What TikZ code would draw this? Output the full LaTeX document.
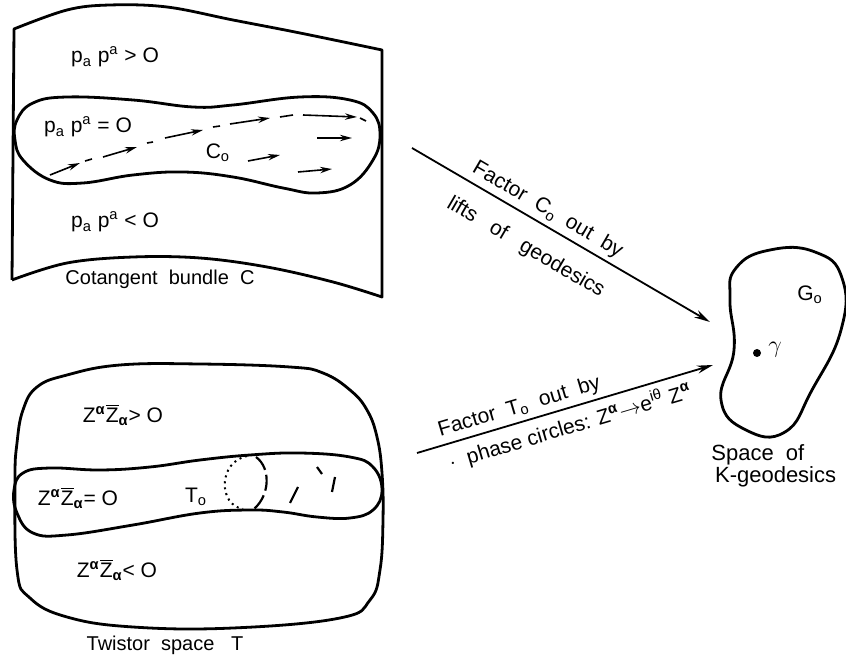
\documentclass[tikz,border=0pt]{standalone}
\usepackage{fontspec}
\setmainfont{Liberation Sans}
\usetikzlibrary{arrows.meta}
\newcommand{\Zpair}{Z\textsuperscript{\textbf{α}}\ensuremath{\overline{\mbox{Z}}}\textsubscript{\textbf{α}}}
\newcommand{\Zsup}{Z\textsuperscript{\textbf{α}}}
\tikzset{
  % Outline styles
  outline/.style={line width=1.4pt, line join=round},
  flowline/.style={line width=0.8pt},
  flowarrow/.style={line width=0.8pt, -{Stealth[length=6pt,width=3.2pt]}},
  maparrow/.style={line width=0.9pt, -{Stealth[length=8pt,width=4pt]}},
  % Label styles
  region/.style={font=\fontsize{10.5}{12}\selectfont, inner sep=1pt},
  caption/.style={font=\fontsize{10}{12}\selectfont, inner sep=1pt},
  maplabel/.style={font=\fontsize{10.5}{12}\selectfont, sloped, inner sep=1pt}
}
\begin{document}
\begin{tikzpicture}[x=0.5pt, y=-0.5pt]
  \useasboundingbox (0,0) rectangle (846,657);

  % Cotangent bundle sheet
  \draw[outline] (12,280) -- (14,29)
    -- plot[smooth, tension=0.6] coordinates {(14,29) (67,10) (110,5) (167,7) (233,20) (300,33) (382,50)}
    -- (382,297)
    -- plot[smooth, tension=0.6] coordinates {(382,297) (333,282) (267,267) (200,258) (133,257) (67,263) (12,280)};
  \draw[outline] plot[smooth cycle, tension=0.7] coordinates {(15,140) (17,120) (33,103) (67,97) (133,100) (193,107) (233,105) (300,97) (350,100) (373,113) (380,135) (373,160) (350,185) (317,193) (283,188) (233,177) (183,172) (133,175) (83,183) (50,180) (23,160)};

  % Lifts of geodesics
  \draw[flowarrow] (50,175) -- (80,163);
  \draw[flowline] (85,161) -- (92,159);
  \draw[flowarrow] (103,157) -- (137,147);
  \draw[flowline] (147,143) -- (153,142);
  \draw[flowarrow] (165,138) -- (203,130);
  \draw[flowline] (213,127) -- (220,126);
  \draw[flowarrow] (230,124) -- (270,118);
  \draw[flowline] (280,117) -- (293,115);
  \draw[flowarrow] (303,115) -- (357,117);
  \draw[flowline] (360,118) -- (366,121);
  \draw[flowarrow] (317,138) -- (352,138);
  \draw[flowarrow] (248,161) -- (280,155);
  \draw[flowarrow] (298,172) -- (332,169);

  \node[region] (cpos) at (115,57) {p\textsubscript{a} p\textsuperscript{a} > O};
  \node[region] (cnull) at (88,127) {p\textsubscript{a} p\textsuperscript{a} = O};
  \node[region] (cneg) at (115,222) {p\textsubscript{a} p\textsuperscript{a} < O};
  \node[region] (czero) at (218,153) {C\textsubscript{o}};
  \node[caption] (ccap) at (160,279) {Cotangent\ \ bundle\ \ C};

  % Twistor space
  \draw[outline] plot[smooth cycle, tension=0.7] coordinates {(15,480) (17,443) (23,410) (37,387) (67,375) (120,365) (200,364) (290,367) (323,373) (350,390) (367,410) (377,437) (382,473) (383,520) (380,570) (370,600) (340,618) (233,628) (133,627) (67,617) (30,598) (17,570)};
  \draw[outline] plot[smooth cycle, tension=0.7] coordinates {(14,490) (23,473) (50,468) (100,470) (150,467) (200,460) (250,455) (300,453) (350,457) (373,467) (382,490) (373,510) (350,518) (317,517) (283,512) (250,510) (200,513) (133,525) (67,535) (33,533) (17,513)};

  % Phase circles
  \draw[dotted, line width=1pt] (247,456) .. controls (218,462) and (218,505) .. (243,509);
  \draw[line width=1.1pt, dash pattern=on 8pt off 2.5pt] (256,457) .. controls (271,468) and (270,495) .. (254,509);
  \draw[line width=1.1pt] (317,467) -- (322,474);
  \draw[line width=1.1pt] (335,477) -- (332,492);
  \draw[line width=1.1pt] (298,487) -- (290,503);

  \node[region] (tpos) at (123,415) {\Zpair > O};
  \node[region] (tnull) at (78,498) {\Zpair = O};
  \node[region] (tzero) at (196,497) {T\textsubscript{o}};
  \node[region] (tneg) at (117,570) {\Zpair < O};
  \node[caption] (tcap) at (165,645) {Twistor\ \ space\ \ \ T};

  % Space of K-geodesics
  \draw[outline] plot[smooth cycle, tension=0.8] coordinates {(736,268) (770,250) (815,252) (842,278) (841,330) (812,390) (785,432) (746,430) (721,400) (734,350) (730,300)};
  \fill (757,353) circle (2pt);
  \node[region, font=\fontsize{12}{12}\selectfont] (gamma) at (775,350) {$\gamma$};
  \node[region] (gzero) at (810,295) {G\textsubscript{o}};
  \node[caption, font=\fontsize{11}{12}\selectfont, align=left, anchor=west] (gcap) at (709,466) {Space\ \ of\\[-1pt]\,K-geodesics};

  % Maps
  \coordinate (cout) at (412,148);
  \coordinate (gtop) at (710,322);
  \coordinate (tout) at (417,453);
  \coordinate (gbot) at (713,365);
  \draw[maparrow] (cout) -- node[maplabel, above=1pt, pos=0.43] (clabA) {Factor\ \ C\textsubscript{o}\ \ out\ \ by}
    node[maplabel, below=8pt, pos=0.43] (clabB) {lifts\ \ \ of\ \ \ geodesics} (gtop);
  \draw[maparrow] (tout) -- node[maplabel, above=1pt, pos=0.36] (tlabA) {Factor\ \ T\textsubscript{o}\ \ out\ \ by}
    node[maplabel, below=2pt, pos=0.5] (tlabB) {$\cdot$\hspace{6pt}phase circles: \Zsup$\rightarrow$e\textsuperscript{iθ} \Zsup} (gbot);
\end{tikzpicture}
\end{document}
